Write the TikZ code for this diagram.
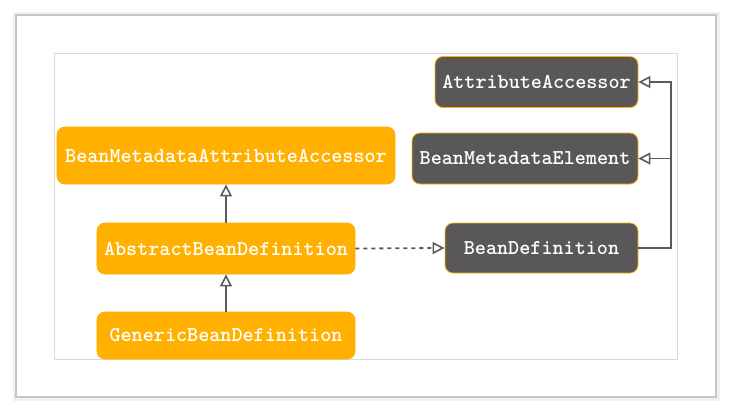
\documentclass[tikz,border=0pt]{standalone}
\usepackage{fontspec}
\usetikzlibrary{arrows.meta}
\definecolor{orng}{RGB}{255,176,0}
\definecolor{dark}{RGB}{89,87,87}
\definecolor{edge}{RGB}{90,90,90}
\tikzset{
  box/.style={rounded corners=8bp, draw=orng, line width=0.8bp, text=white,
    font=\ttfamily\bfseries\fontsize{21.2}{24}\selectfont, inner sep=0pt, anchor=center},
  obox/.style={box, fill=orng},
  dbox/.style={box, fill=dark},
  link/.style={draw=edge, line width=1.8bp},
  inh/.style={link, -{Triangle[open, length=12bp, width=12bp, fill=white, line width=1.6bp]}},
}
\begin{document}
\begin{tikzpicture}[x=1bp,y=-1bp]
\useasboundingbox (0,0) rectangle (739,415);
\fill[white] (0,0) rectangle (739,415);
% outer frame with soft shadow
\draw[gray!12, line width=3bp] (14.5,13.5) rectangle (718,399.5);
\draw[gray!45, line width=1.6bp] (16,15) rectangle (716,397);
% inner frame
\draw[gray!30, line width=0.8bp] (54,53) rectangle (677,359);

\node[dbox, minimum width=203bp, minimum height=51bp] (AA) at (536.5,82) {AttributeAccessor};
\node[dbox, minimum width=226bp, minimum height=51bp] (BME) at (525,158.5) {BeanMetadataElement};
\node[dbox, minimum width=193bp, minimum height=50bp] (BD) at (541.5,248) {BeanDefinition};
\node[obox, minimum width=338bp, minimum height=57bp] (BMAA) at (226,155.5) {BeanMetadataAttributeAccessor};
\node[obox, minimum width=258bp, minimum height=51bp] (ABD) at (226,248.5) {AbstractBeanDefinition};
\node[obox, minimum width=258bp, minimum height=47bp] (GBD) at (226,335.5) {GenericBeanDefinition};

\coordinate (j) at (671,248);
\draw[inh] (BD.east) -- (j) |- (AA.east);
\draw[inh] (j |- BME.east) -- (BME.east);
\draw[inh] (ABD.north) -- (BMAA.south);
\draw[inh] (GBD.north) -- (ABD.south);
\draw[inh, dashed, dash pattern=on 4bp off 4bp] (ABD.east) -- (BD.west);
\end{tikzpicture}
\end{document}
